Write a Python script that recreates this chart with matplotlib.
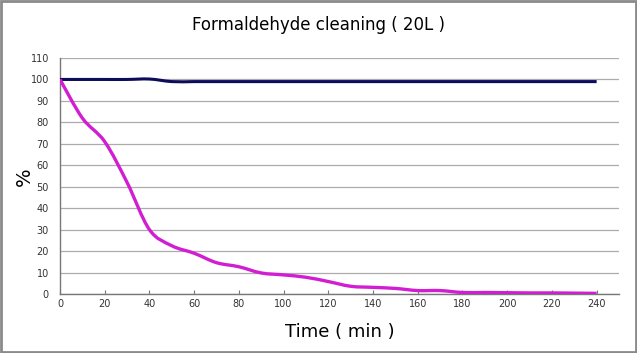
import numpy as np
import matplotlib.pyplot as plt
from matplotlib.patches import Rectangle, PathPatch
from matplotlib.path import Path

time_min = [0, 10, 20, 30, 40, 50, 60, 70, 80, 90, 100, 110, 120,
            130, 140, 150, 160, 170, 180, 190, 200, 210, 220, 230, 240]
formaldehyde = [100, 82, 71, 52, 30, 22.5, 19, 14.6, 12.7, 9.8, 8.9, 7.8, 5.8,
                3.6, 3.1, 2.6, 1.6, 1.6, 0.7, 0.7, 0.6, 0.5, 0.5, 0.4, 0.3]
control = [100, 100, 100, 100, 100.2, 99, 99, 99, 99, 99, 99, 99, 99,
           99, 99, 99, 99, 99, 99, 99, 99, 99, 99, 99, 99]

x_ticks = np.arange(0, 241, 20)
y_ticks = np.arange(0, 111, 10)


def smooth_path(xs, ys):
    # Excel-style smoothed line: cubic Bezier segments through the points
    p = np.column_stack([xs, ys]).astype(float)
    verts = [p[0]]
    codes = [Path.MOVETO]
    n = len(p)
    for i in range(n - 1):
        p0 = p[i - 1] if i > 0 else p[i]
        p3 = p[i + 2] if i + 2 < n else p[i + 1]
        c1 = p[i] + (p[i + 1] - p0) / 6
        c2 = p[i + 1] - (p3 - p[i]) / 6
        verts += [c1, c2, p[i + 1]]
        codes += [Path.CURVE4] * 3
    return Path(verts, codes)


fig = plt.figure(figsize=(6.37, 3.53), dpi=100)
ax = fig.add_axes([60 / 637, 1 - 294 / 353, 559 / 637, 236 / 353])

ax.add_patch(PathPatch(smooth_path(time_min, control), fill=False,
                       edgecolor="#0c0c5a", linewidth=2.2, zorder=3))
ax.add_patch(PathPatch(smooth_path(time_min, formaldehyde), fill=False,
                       edgecolor="#d21ed2", linewidth=2.4, zorder=4))

ax.set_xlim(0, 250)
ax.set_ylim(0, 110)
ax.set_xticks(x_ticks)
ax.set_yticks(y_ticks)
ax.tick_params(axis="both", labelsize=7, colors="#333333")
ax.tick_params(axis="x", direction="in", length=3, color="#777777")
ax.tick_params(axis="y", length=0, pad=8)
ax.grid(axis="y", color="#acacac", linewidth=0.9)
ax.set_axisbelow(True)
for s in ["top", "right"]:
    ax.spines[s].set_visible(False)
for s in ["left", "bottom"]:
    ax.spines[s].set_color("#777777")
    ax.spines[s].set_linewidth(1.0)

ax.set_xlabel("Time ( min )", fontsize=13, labelpad=10)
fig.text(24 / 637, 1 - 177 / 353, "%", rotation=90, ha="center", va="center", fontsize=14)
fig.text(0.5, 1 - 25 / 353, "Formaldehyde cleaning ( 20L )", ha="center", va="center", fontsize=12)

fig.patches.append(Rectangle((0.001, 0.002), 0.997, 0.995, transform=fig.transFigure,
                             fill=False, edgecolor="#8a8a8a", linewidth=2))

fig.savefig("out.png", dpi=100)
